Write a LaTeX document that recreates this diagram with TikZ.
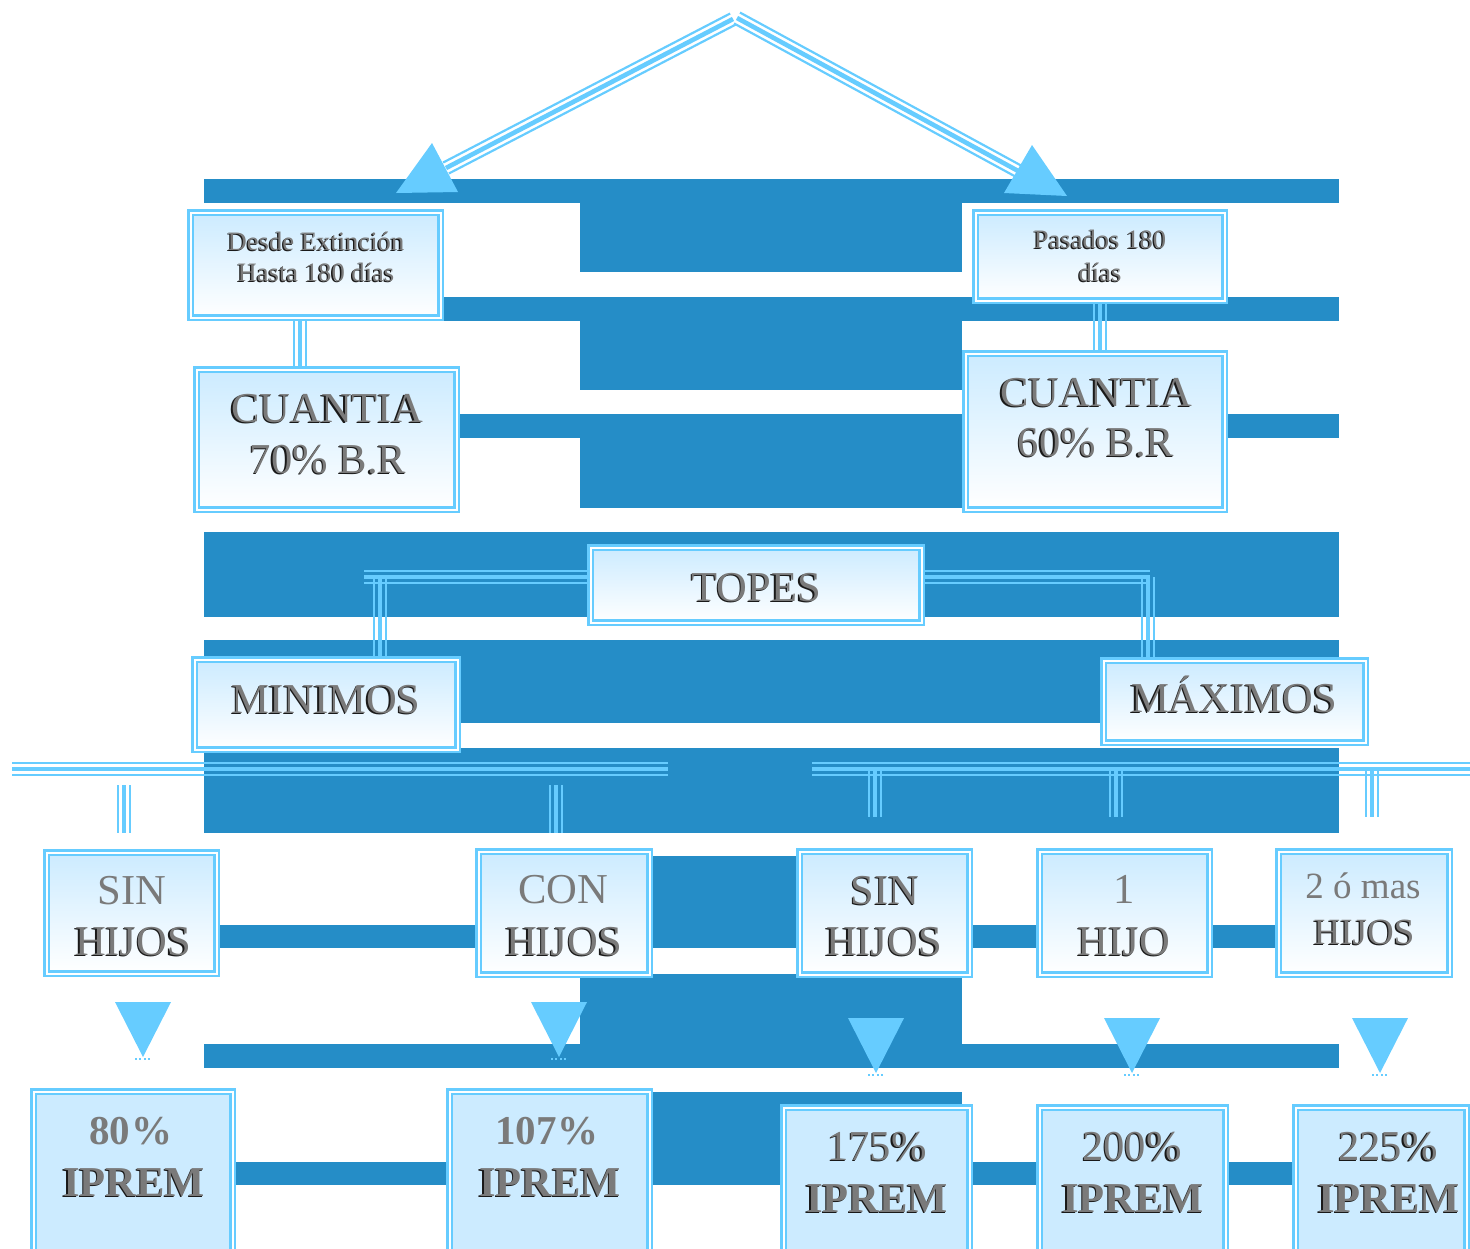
\documentclass[tikz,border=0pt]{standalone}
\usepackage{fontspec}
\setmainfont{Liberation Serif}
\usetikzlibrary{fit}
\definecolor{dk}{RGB}{37,141,199}
\definecolor{lb}{RGB}{102,204,255}
\definecolor{fl}{RGB}{204,235,255}
\definecolor{tg}{RGB}{122,122,122}
\definecolor{shc}{RGB}{25,25,25}
\pgfdeclarelayer{bars}
\pgfdeclarelayer{conn}
\pgfsetlayers{bars,conn,main}
% triple line: dx dy (offset of one outer line, pt), -dx -dy, from, to
\newcommand\trip[6]{%
  \draw[lb,line width=2.3pt] (#5) -- (#6);
  \draw[lb,line width=1.1pt] ([shift={(#1pt,#2pt)}]#5) -- ([shift={(#1pt,#2pt)}]#6);
  \draw[lb,line width=1.1pt] ([shift={(#3pt,#4pt)}]#5) -- ([shift={(#3pt,#4pt)}]#6);}
\newcommand\trV[2]{\trip{3.1}{0}{-3.1}{0}{#1}{#2}}
\newcommand\trH[2]{\trip{0}{3.1}{0}{-3.1}{#1}{#2}}
% shadowed text
\newcommand\sht[4]{%
  \node[txt,#3,text=shc] (#1s) at ([shift={(-1.3,1.3)}]#2) {#4};
  \node[txt,#3] (#1) at (#2) {#4};}
\begin{document}
\begin{tikzpicture}[x=0.5pt,y=-0.5pt,
  bar/.style={fill=dk},
  box/.style={draw=lb,double=white,double distance=1pt,line width=1.25pt,
    top color=fl,bottom color=white,inner sep=0pt},
  pbox/.style={draw=lb,double=white,double distance=1pt,line width=1.25pt,
    fill=fl,inner sep=0pt},
  txt/.style={anchor=base,inner sep=0pt,text=tg},
  fs/.style={font=\fontsize{13.3}{16}\selectfont},
  fb/.style={font=\fontsize{21.3}{25}\selectfont},
  fbb/.style={font=\fontsize{21.3}{25}\selectfont\bfseries},
  fnb/.style={font=\fontsize{20.5}{25}\selectfont\bfseries},
  fm/.style={font=\fontsize{18.5}{22}\selectfont},
  head/.style={fill=lb}]
\useasboundingbox (0,0) rectangle (1470,1248);
\clip (0,0) rectangle (1470,1248);

% ---- background bars
\begin{pgfonlayer}{bars}
\fill[bar] (204,179) rectangle (1339,203);
\fill[bar] (580,203) rectangle (962,272);
\fill[bar] (204,297) rectangle (1339,321);
\fill[bar] (580,321) rectangle (962,390);
\fill[bar] (204,414) rectangle (1339,438);
\fill[bar] (580,438) rectangle (962,508);
\fill[bar] (204,532) rectangle (1339,617);
\fill[bar] (204,640) rectangle (1339,723);
\fill[bar] (204,748) rectangle (1339,833);
\fill[bar] (580,856) rectangle (962,925);
\fill[bar] (204,925) rectangle (1339,948);
\fill[bar] (580,974) rectangle (962,1044);
\fill[bar] (204,1044) rectangle (1339,1068);
\fill[bar] (580,1092) rectangle (962,1162);
\fill[bar] (204,1162) rectangle (1339,1185);
\end{pgfonlayer}

% ---- boxes
\node[box,fit={(190.5,212.5)(440.5,317.5)}] (desde) {};
\node[box,fit={(975.5,212.5)(1224.5,300.5)}] (pasados) {};
\node[box,fit={(196.5,369.5)(456.5,509.5)}] (c70) {};
\node[box,fit={(965.5,353.5)(1224.5,509.5)}] (c60) {};
\node[box,fit={(590.5,547.5)(921.5,622.5)}] (topes) {};
\node[box,fit={(194.5,659.5)(457.5,749.5)}] (minimos) {};
\node[box,fit={(1103.5,660.5)(1365.5,742.5)}] (maximos) {};
\node[box,fit={(46.5,852.5)(216.5,973.5)}] (sinL) {};
\node[box,fit={(478.5,851.5)(649.5,974.5)}] (con) {};
\node[box,fit={(799.5,851.5)(969.5,974.5)}] (sinR) {};
\node[box,fit={(1039.5,851.5)(1209.5,974.5)}] (uno) {};
\node[box,fit={(1278.5,851.5)(1449.5,974.5)}] (dos) {};
\node[pbox,fit={(33.5,1091.5)(232.5,1262)}] (p80) {};
\node[pbox,fit={(449.5,1091.5)(649.5,1262)}] (p107) {};
\node[pbox,fit={(783.5,1107.5)(969.5,1262)}] (p175) {};
\node[pbox,fit={(1039.5,1107.5)(1225.5,1262)}] (p200) {};
\node[pbox,fit={(1295.5,1107.5)(1466.5,1262)}] (p225) {};

% ---- connectors (layer above the bars, below the boxes)
\begin{pgfonlayer}{conn}
\coordinate (apL) at (733,19);
\coordinate (apR) at (737,18);
\coordinate (endL) at (446,168);
\coordinate (endR) at (1020,172);
\trip{1.44}{-2.74}{-1.44}{2.74}{apL}{endL}
\trip{1.49}{2.72}{-1.49}{-2.72}{apR}{endR}
\fill[head] (432,143) -- (396,193) -- (458,192) -- cycle;
\fill[head] (1032,145) -- (1004,193) -- (1067,196) -- cycle;

\coordinate (v1a) at ([xshift=-7.75pt]desde.south);
\coordinate (v1b) at (v1a |- c70.north);
\trV{v1a}{v1b}
\coordinate (v2a) at (pasados.south);
\coordinate (v2b) at (v2a |- c60.north);
\trV{v2a}{v2b}

\coordinate (tl1) at ([yshift=4pt]topes.west);
\coordinate (tl2) at (364,577);
\trH{tl1}{tl2}
\coordinate (tl3) at (380,577);
\coordinate (tl4) at (tl3 |- minimos.north);
\trV{tl3}{tl4}
\coordinate (tr1) at ([yshift=4pt]topes.east);
\coordinate (tr2) at (1150,577);
\trH{tr1}{tr2}
\coordinate (tr3) at (1148,577);
\coordinate (tr4) at (tr3 |- maximos.north);
\trV{tr3}{tr4}

\coordinate (hl1) at (12,769);
\coordinate (hl2) at (668,769);
\trH{hl1}{hl2}
\coordinate (hr1) at (812,769);
\coordinate (hr2) at (1470,769);
\trH{hr1}{hr2}

\coordinate (s1a) at (124,785); \coordinate (s1b) at (124,833); \trV{s1a}{s1b}
\coordinate (s2a) at (556,785); \coordinate (s2b) at (556,833); \trV{s2a}{s2b}
\coordinate (s3a) at (875,771); \coordinate (s3b) at (875,817); \trV{s3a}{s3b}
\coordinate (s4a) at (1116,771); \coordinate (s4b) at (1116,817); \trV{s4a}{s4b}
\coordinate (s5a) at (1372,771); \coordinate (s5b) at (1372,817); \trV{s5a}{s5b}

% down-pointing heads
\foreach \cx/\ty in {143/1002,559/1002,876/1018,1132/1018,1380/1018}{
  \fill[head] (\cx-28,\ty) -- (\cx+28,\ty) -- (\cx,\ty+55) -- cycle;
  \draw[lb,line width=0.6pt,dash pattern=on 1pt off 1.2pt] (\cx-8,\ty+57) -- (\cx+8,\ty+57);
}
\end{pgfonlayer}

% ---- texts
\sht{dz1}{316,250}{fs}{Desde Extinción}
\sht{dz2}{316,281}{fs}{Hasta 180 días}
\sht{ps1}{1100,248}{fs}{Pasados 180}
\sht{ps2}{1100,281}{fs}{días}
\sht{ca1}{327,422}{fb}{CUANTIA}
\sht{ca2}{328,473}{fb}{70\% B.R}
\sht{cb1}{1096,406}{fb}{CUANTIA}
\sht{cb2}{1096,456}{fb}{60\% B.R}
\sht{tp}{756,601}{fb}{TOPES}
\sht{mn}{326,713}{fb}{MINIMOS}
\sht{mx}{1234,712}{fb}{MÁXIMOS}
\node[txt,fb] (s1t) at (132,904) {SIN};
\sht{s1h}{133,955}{fb}{HIJOS}
\node[txt,fb] (c1t) at (563,903) {CON};
\sht{c1h}{564,955}{fb}{HIJOS}
\sht{s2t}{885,904}{fb}{SIN}
\sht{s2h}{884,955}{fb}{HIJOS}
\node[txt,fb] (u1t) at (1124,903) {1};
\sht{u1h}{1124,955}{fb}{HIJO}
\node[txt,fm] (d1t) at (1363,898) {2 ó mas};
\sht{d1h}{1364,944}{fm}{HIJOS}
\node[txt,fnb] (p1t) at (131,1144) {80\kern0.6pt\%};
\sht{p1h}{134,1196}{fbb}{IPREM}
\node[txt,fnb] (p2t) at (547,1144) {107\kern0.6pt\%};
\sht{p2h}{550,1196}{fbb}{IPREM}
\sht{p3t}{877,1160}{fb}{175\%}
\sht{p3h}{877,1212}{fbb}{IPREM}
\sht{p4t}{1132,1160}{fb}{200\%}
\sht{p4h}{1133,1212}{fbb}{IPREM}
\sht{p5t}{1388,1160}{fb}{225\%}
\sht{p5h}{1389,1212}{fbb}{IPREM}
\end{tikzpicture}
\end{document}
